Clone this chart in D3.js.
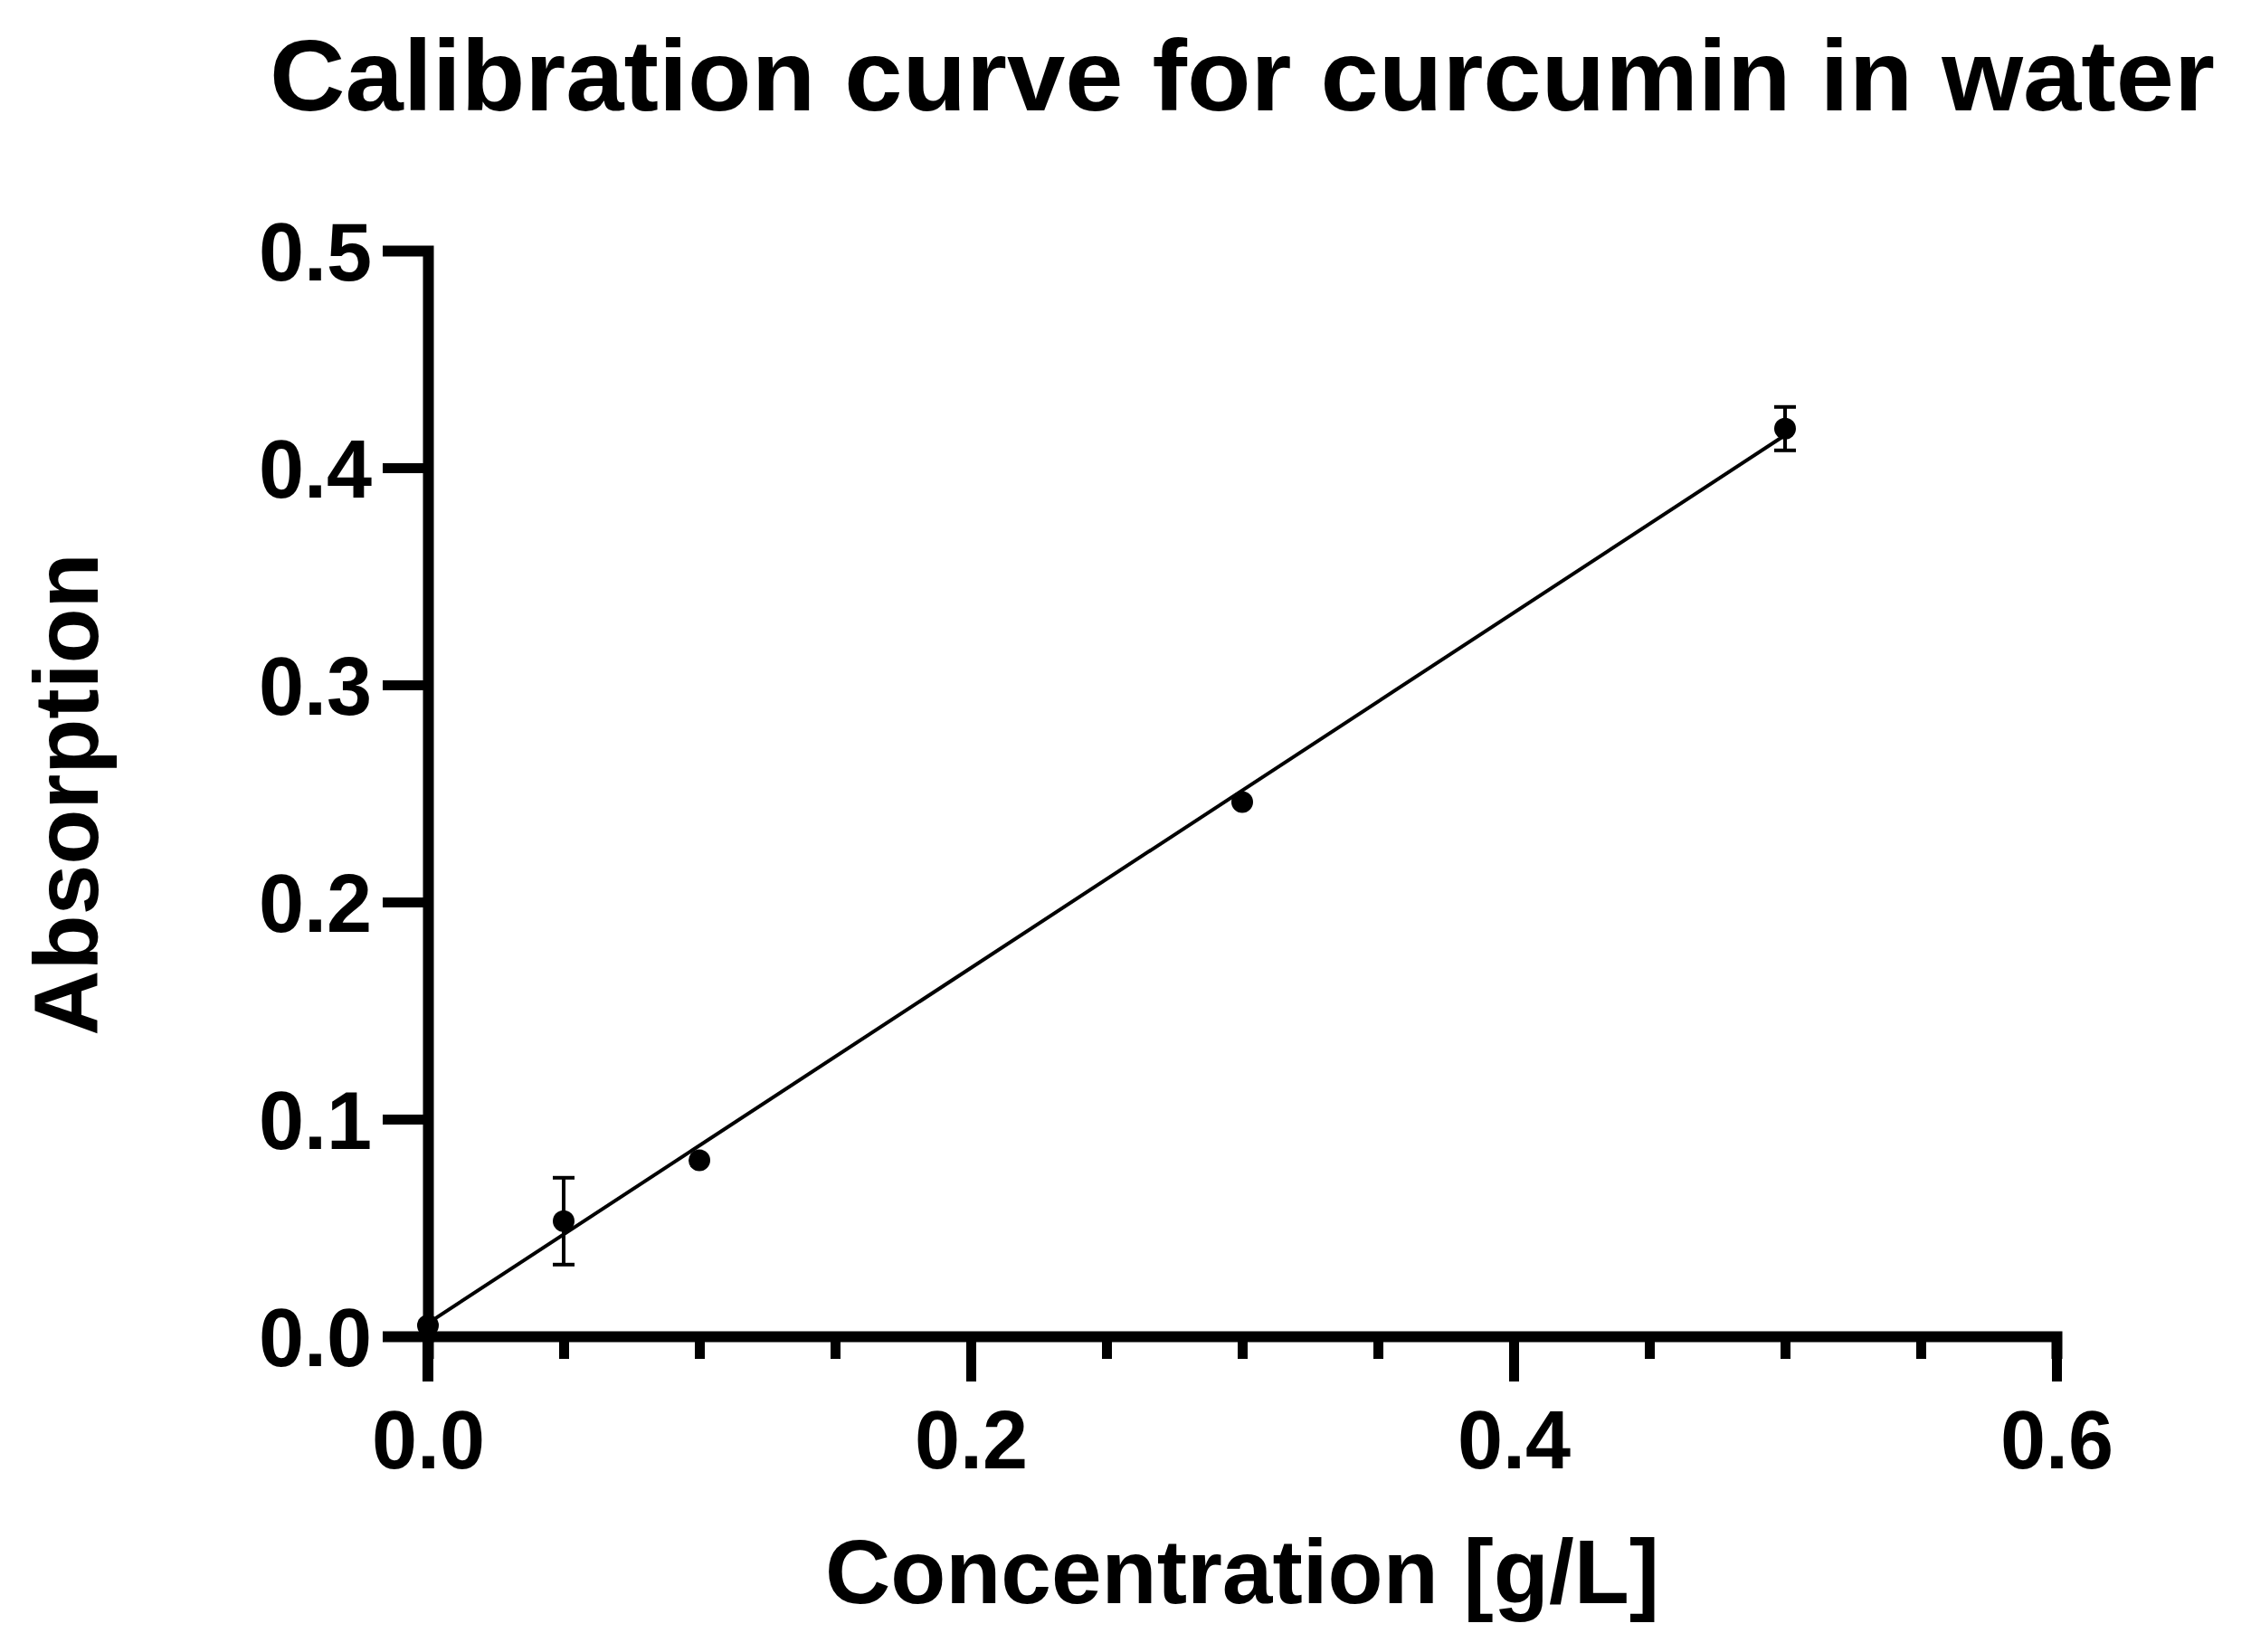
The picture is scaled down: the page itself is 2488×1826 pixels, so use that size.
<!DOCTYPE html>
<html>
<head>
<meta charset="utf-8">
<script src="https://cdn.jsdelivr.net/npm/d3@7"></script>
<style>
  body { margin: 0; background: #fff; }
  text { font-family: "Liberation Sans", Arial, sans-serif; font-weight: bold; fill: #000; }
</style>
</head>
<body>
<svg id="chart" width="2488" height="1826"></svg>
<script>
// data
var concentration = [0, 0.05, 0.1, 0.3, 0.5];
var absorption = [0.005, 0.053, 0.081, 0.246, 0.418];
var errors = [0, 0.020, 0.002, 0.002, 0.010];
var fitLine = [[0, 0.006], [0.5, 0.415]];
var xTicks = [0, 0.2, 0.4, 0.6];
var yTicks = [0, 0.1, 0.2, 0.3, 0.4, 0.5];

var svg = d3.select("#chart");
var margin = {left: 473, top: 277, right: 215, bottom: 349};
var w = 2488 - margin.left - margin.right,
  h = 1826 - margin.top - margin.bottom;

var x = d3.scaleLinear().domain([0, 0.6]).range([0, w]);
var y = d3.scaleLinear().domain([0, 0.5]).range([h, 0]);

var g = svg.append("g").attr("transform", "translate(" + margin.left + "," + margin.top + ")");

// x axis: major ticks long, minor ones short
var xAxis = g.append("g").attr("transform", "translate(0," + h + ")");
xAxis.call(d3.axisBottom(x).tickValues(d3.range(0, 0.601, 0.05)).tickSize(25).tickFormat(""));
xAxis.call(function(a) {
  a.selectAll(".tick line").attr("stroke-width", 11);
  a.select(".domain").attr("stroke-width", 12);
});
var xMajor = g.append("g").attr("transform", "translate(0," + h + ")")
  .call(d3.axisBottom(x).tickValues(xTicks).tickSize(50).tickPadding(32).tickFormat(d3.format(".1f")));
xMajor.select(".domain").remove();
xMajor.selectAll(".tick line").attr("stroke-width", 11);
xMajor.selectAll("text").attr("font-size", 90);

var yAxis = g.append("g")
  .call(d3.axisLeft(y).tickValues(yTicks).tickSize(50).tickPadding(12).tickFormat(d3.format(".1f")));
yAxis.select(".domain").attr("stroke-width", 12);
yAxis.selectAll(".tick line").attr("stroke-width", 11);
yAxis.selectAll("text").attr("font-size", 90).attr("dy", "0.36em");
// extend y axis line below the x axis like the original
g.append("line").attr("x1", 0).attr("x2", 0).attr("y1", h).attr("y2", h + 50)
  .attr("stroke", "#000").attr("stroke-width", 12);

// regression line
g.append("path")
  .datum(fitLine)
  .attr("fill", "none").attr("stroke", "#000").attr("stroke-width", 4)
  .attr("d", d3.line().x(function(d) { return x(d[0]); }).y(function(d) { return y(d[1]); }));

// error bars
var pts = concentration.map(function(c, i) { return {c: c, a: absorption[i], e: errors[i]}; });
var eb = g.selectAll(".err").data(pts.filter(function(d) { return d.e > 0.004; })).enter().append("g");
eb.append("line")
  .attr("x1", function(d) { return x(d.c); }).attr("x2", function(d) { return x(d.c); })
  .attr("y1", function(d) { return y(d.a - d.e); }).attr("y2", function(d) { return y(d.a + d.e); })
  .attr("stroke", "#000").attr("stroke-width", 4);
[-1, 1].forEach(function(s) {
  eb.append("line")
    .attr("x1", function(d) { return x(d.c) - 12; }).attr("x2", function(d) { return x(d.c) + 12; })
    .attr("y1", function(d) { return y(d.a + s * d.e); }).attr("y2", function(d) { return y(d.a + s * d.e); })
    .attr("stroke", "#000").attr("stroke-width", 4);
});

g.selectAll(".dot").data(pts).enter().append("circle")
  .attr("cx", function(d) { return x(d.c); })
  .attr("cy", function(d) { return y(d.a); })
  .attr("r", 12).attr("fill", "#000");

// titles
svg.append("text").attr("x", 298).attr("y", 122)
  .attr("font-size", 112).attr("textLength", 2150).attr("lengthAdjust", "spacingAndGlyphs")
  .text("Calibration curve for curcumin in water");
svg.append("text").attr("x", 1373).attr("y", 1772).attr("text-anchor", "middle")
  .attr("font-size", 100).text("Concentration [g/L]");
svg.append("text").attr("transform", "translate(108,878) rotate(-90)").attr("text-anchor", "middle")
  .attr("font-size", 100).text("Absorption");
</script>
</body>
</html>
